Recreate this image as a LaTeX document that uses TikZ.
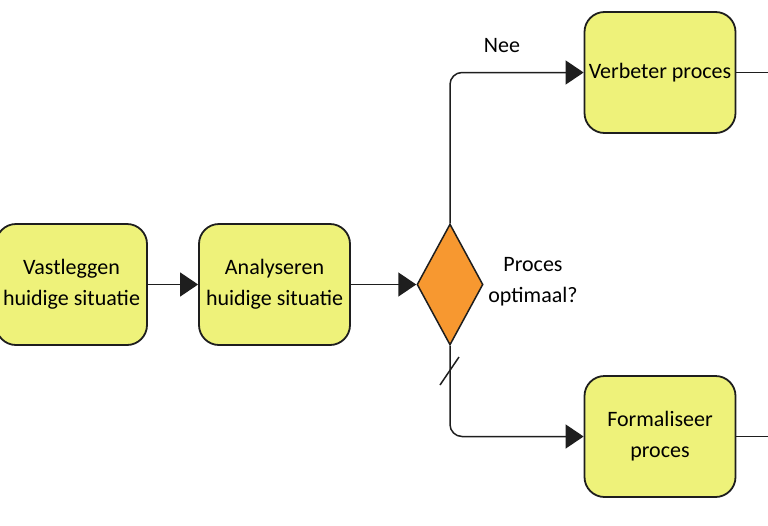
\documentclass[tikz,border=0pt]{standalone}
\usepackage{fontspec}
\setmainfont{Carlito}
\usetikzlibrary{arrows.meta,shapes.geometric}
\definecolor{boxyellow}{RGB}{238,242,122}
\definecolor{diaorange}{RGB}{247,152,48}
\definecolor{edge}{RGB}{30,30,30}
\tikzset{
  task/.style={draw=edge, line width=1.8pt, fill=boxyellow, rounded corners=20pt,
    minimum width=151pt, minimum height=121pt, inner sep=0pt, align=center,
    font=\fontsize{22}{31}\selectfont},
  gate/.style={draw=edge, line width=1.5pt, fill=diaorange, diamond, inner sep=0pt,
    minimum width=66pt, minimum height=121pt},
  flow/.style={draw=edge, line width=1.5pt, -{Triangle[length=18pt,width=24pt]}},
  plainflow/.style={draw=edge, line width=1.5pt},
  lbl/.style={align=center, font=\fontsize{22}{31}\selectfont, inner sep=0pt}
}
\begin{document}
\begin{tikzpicture}[x=1pt,y=-1pt]
\useasboundingbox (0,0) rectangle (768,525);
\clip (0,0) rectangle (768,525);
\node[task] (vast) at (71.5,284.5) {Vastleggen\\huidige situatie};
\node[task] (anal) at (274.5,284.5) {Analyseren\\huidige situatie};
\node[gate] (gw) at (450,284.5) {};
\node[task] (verb) at (660,72.5) {Verbeter proces};
\node[task] (form) at (660,436.5) {Formaliseer\\proces};
\node[lbl] (q) at (533,282) {Proces\\optimaal?};
\node[lbl] (nee) at (502,46) {Nee};
\coordinate (outv) at (775,72.5);
\coordinate (outf) at (775,436.5);
\coordinate (s1) at (440,385);
\coordinate (s2) at (459,357);
\draw[flow] (vast) -- (anal);
\draw[flow] (anal) -- (gw);
\draw[flow, rounded corners=12pt] (gw.north) |- (verb.west);
\draw[flow, rounded corners=12pt] (gw.south) |- (form.west);
\draw[plainflow] (s1) -- (s2);
\draw[plainflow] (verb.east) -- (outv);
\draw[plainflow] (form.east) -- (outf);
\end{tikzpicture}
\end{document}
